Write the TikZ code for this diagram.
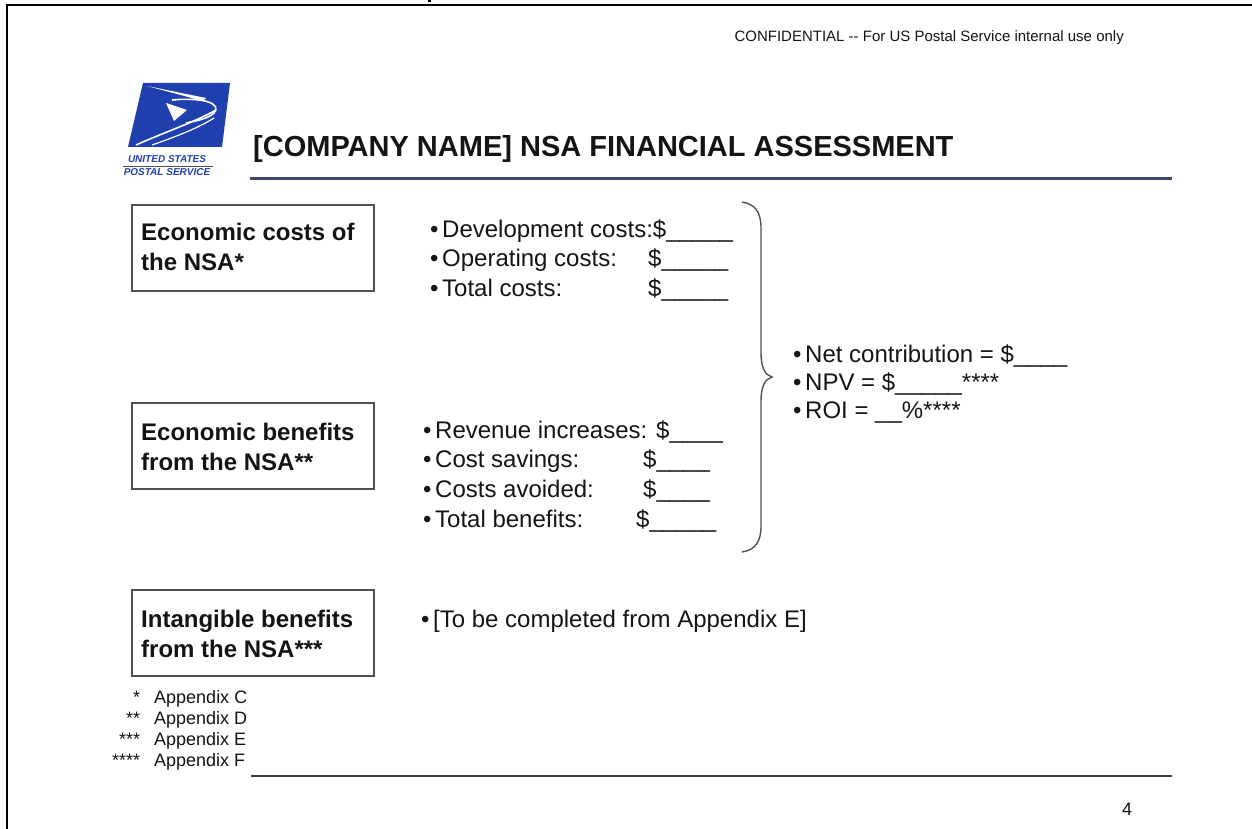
\documentclass[tikz,border=0pt]{standalone}
\usepackage{fontspec}
\setmainfont{Liberation Sans}
\definecolor{boxgray}{RGB}{80,80,80}
\definecolor{uspsblue}{RGB}{32,64,176}
\definecolor{titleline}{RGB}{66,72,100}
\definecolor{txt}{RGB}{20,20,20}
\newcommand\mybul{\makebox[12pt][l]{•}}
\begin{document}
\begin{tikzpicture}[x=1pt,y=-1pt,
  box/.style={draw=boxgray, line width=1.5pt, inner sep=0pt, anchor=north west, minimum width=242pt, minimum height=86pt},
  boxtext/.style={anchor=base west, inner sep=0pt, text=txt, font=\fontsize{24}{30}\selectfont\bfseries},
  listtext/.style={anchor=base west, inner sep=0pt, text=txt, font=\fontsize{24}{29.7}\selectfont},
  smalltext/.style={anchor=base west, inner sep=0pt, text=txt, font=\fontsize{18}{21}\selectfont},
  bracestyle/.style={draw=boxgray, line width=1.4pt}
]
\useasboundingbox (0,0) rectangle (1252,829);
% page frame
\draw[line width=2pt] (7,829) -- (7,5) -- (1252,5);
\fill (428,0) rectangle (431,2.5);

% header
\node[anchor=base east, inner sep=0pt, text=txt, font=\fontsize{15}{18}\selectfont] (conf) at (1124,42) {CONFIDENTIAL -{}- For US Postal Service internal use only};

% logo
\fill[uspsblue] (143,83) -- (230,83) -- (222,147) -- (128,147) -- cycle;
\fill[white] (147,86) -- (206,98) -- (203,101) -- cycle;
\draw[white, line width=1.6pt] (172,100) .. controls (205,97) and (222,104) .. (214,113) .. controls (208,119) and (195,121) .. (186,123);
\fill[white] (166,103) -- (187,110) -- (174,121) -- cycle;
\draw[white, line width=1.6pt] (136,145) .. controls (165,132) and (195,122) .. (216,110);
\draw[white, line width=1.2pt] (152,145) .. controls (178,136) and (200,127) .. (214,118);
\node[anchor=base, inner sep=0pt, text=uspsblue, font=\fontsize{10}{12}\selectfont\bfseries\itshape] (us) at (167,163) {UNITED STATES};
\draw[boxgray, line width=0.8pt] (123,166.5) -- (213,166.5);
\node[anchor=base, inner sep=0pt, text=uspsblue, font=\fontsize{10}{12}\selectfont\bfseries\itshape] (ps) at (167,176) {POSTAL SERVICE};

% title
\node[anchor=base west, inner sep=0pt, text=txt, font=\fontsize{29}{34}\selectfont\bfseries] (title) at (253,157) {[COMPANY NAME] NSA FINANCIAL ASSESSMENT};
\draw[titleline, line width=3pt] (250,178.5) -- (1172,178.5);

% boxes
\node[box] (b1) at (131,204) {};
\node[box] (b2) at (131,402) {};
\node[box] (b3) at (131,589) {};
\node[boxtext] (t1) at (141,240) {\begin{tabular}[t]{@{}l@{}}Economic costs of\\the NSA*\end{tabular}};
\node[boxtext] (t2) at (141,440) {\begin{tabular}[t]{@{}l@{}}Economic benefits\\from the NSA**\end{tabular}};
\node[boxtext] (t3) at (141,627) {\begin{tabular}[t]{@{}l@{}}Intangible benefits\\from the NSA***\end{tabular}};

% lists
\node[listtext] (l1) at (430,237) {\begin{tabular}[t]{@{}l@{}}
\mybul Development costs:\$\_\_\_\_\_\\
\mybul\makebox[206pt][l]{Operating costs:}\$\_\_\_\_\_\\
\mybul\makebox[206pt][l]{Total costs:}\$\_\_\_\_\_
\end{tabular}};
\node[listtext] (l2) at (423,438) {\begin{tabular}[t]{@{}l@{}}
\mybul Revenue increases: \$\_\_\_\_\\
\mybul\makebox[208pt][l]{Cost savings:}\$\_\_\_\_\\
\mybul\makebox[208pt][l]{Costs avoided:}\$\_\_\_\_\\
\mybul\makebox[201pt][l]{Total benefits:}\$\_\_\_\_\_
\end{tabular}};
\node[listtext, font=\fontsize{24}{28}\selectfont] (l3) at (793,362) {\begin{tabular}[t]{@{}l@{}}
\mybul Net contribution = \$\_\_\_\_\\
\mybul NPV = \$\_\_\_\_\_****\\
\mybul ROI = \_\_\%****
\end{tabular}};
\node[listtext] (l4) at (421,627) {\mybul[To be completed from Appendix E]};

% brace
\draw[bracestyle] (742,202) .. controls (755,204) and (761,212) .. (761,228) -- (761,352)
  .. controls (761,368) and (765,375) .. (772,377)
  .. controls (765,379) and (761,386) .. (761,402) -- (761,526)
  .. controls (761,542) and (755,550) .. (742,552);

% footnotes
\node[smalltext] (fn) at (112,703) {\begin{tabular}[t]{@{}r@{\hspace{14pt}}l@{}}
{*} & Appendix C\\
{**} & Appendix D\\
{***} & Appendix E\\
{****} & Appendix F
\end{tabular}};

% footer
\draw[boxgray!80!black, line width=2.2pt] (251,776) -- (1172,776);
\node[anchor=base, inner sep=0pt, text=txt, font=\fontsize{18}{21}\selectfont] (pg) at (1127,815) {4};
\end{tikzpicture}
\end{document}
